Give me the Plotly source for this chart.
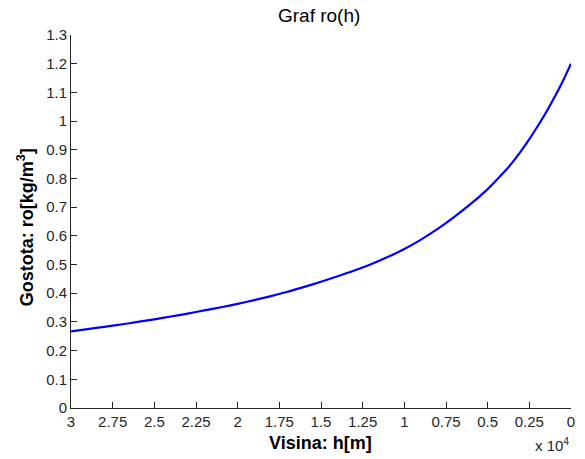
import plotly.graph_objects as go

# Data
h_m = [0, 500, 1000, 1500, 2000, 2500, 3000, 3500, 4000, 5000, 6000, 7000, 8000,
       9000, 10000, 11000, 12000, 13000, 14000, 15000, 16000, 17000, 18000, 19000,
       20000, 21000, 22000, 23000, 24000, 25000, 26000, 27000, 28000, 29000, 30000]
ro = [1.200, 1.138, 1.082, 1.030, 0.982, 0.937, 0.895, 0.857, 0.823, 0.763, 0.712, 0.666, 0.624,
      0.587, 0.554, 0.526, 0.501, 0.479, 0.459, 0.440, 0.422, 0.405, 0.390, 0.376,
      0.363, 0.351, 0.340, 0.329, 0.319, 0.309, 0.300, 0.291, 0.283, 0.275, 0.267]

x_tickvals = [0, 2500, 5000, 7500, 10000, 12500, 15000, 17500, 20000, 22500, 25000, 27500, 30000]
x_ticktext = ["0", "0.25", "0.5", "0.75", "1", "1.25", "1.5", "1.75", "2", "2.25", "2.5", "2.75", "3"]
y_tickvals = [0, 0.1, 0.2, 0.3, 0.4, 0.5, 0.6, 0.7, 0.8, 0.9, 1.0, 1.1, 1.2, 1.3]
y_ticktext = ["0", "0.1", "0.2", "0.3", "0.4", "0.5", "0.6", "0.7", "0.8", "0.9", "1", "1.1", "1.2", "1.3"]

W, H = 585, 459
L, R, T, B = 71, 10, 35, 51
pw, ph = W - L - R, H - T - B

def px(xp):
    return (xp - L) / pw

def py(yp):
    return (H - B - yp) / ph

FONT = "Liberation Sans, Arial, sans-serif"
axcol = "#262626"

fig = go.Figure()
fig.add_trace(go.Scatter(x=h_m, y=ro, mode="lines",
                         line=dict(color="#0000ff", width=2.2, shape="spline", smoothing=0.8),
                         showlegend=False, hoverinfo="skip"))

fig.update_layout(
    width=W, height=H,
    margin=dict(l=L, r=R, t=T, b=B, pad=0),
    paper_bgcolor="white", plot_bgcolor="white",
    font=dict(family=FONT, size=15, color=axcol),
    xaxis=dict(range=[30000, 0], tickvals=x_tickvals, ticktext=x_ticktext,
               ticks="inside", ticklen=6, tickcolor=axcol, tickwidth=1,
               showline=True, linecolor=axcol, linewidth=1,
               showgrid=False, zeroline=False, mirror=False,
               tickfont=dict(size=15, color=axcol)),
    yaxis=dict(range=[0, 1.3], tickvals=y_tickvals, ticktext=y_ticktext,
               ticks="inside", ticklen=6, tickcolor=axcol, tickwidth=1,
               showline=True, linecolor=axcol, linewidth=1,
               showgrid=False, zeroline=False, mirror=False,
               tickfont=dict(size=15, color=axcol)),
    annotations=[
        dict(text="Graf ro(h)", x=px(321), y=py(16), xref="paper", yref="paper",
             showarrow=False, xanchor="center", yanchor="middle",
             font=dict(family=FONT, size=19, color="black")),
        dict(text="<b>Visina: h[m]</b>", x=px(322), y=py(443), xref="paper", yref="paper",
             showarrow=False, xanchor="center", yanchor="middle",
             font=dict(family=FONT, size=18, color="black")),
        dict(text="<b>Gostota: ro[kg/m<sup>3</sup>]</b>", x=px(25), y=py(227), xref="paper", yref="paper",
             showarrow=False, xanchor="center", yanchor="middle", textangle=-90,
             font=dict(family=FONT, size=18, color="black")),
        dict(text="x 10<sup>4</sup>", x=px(556), y=py(444), xref="paper", yref="paper",
             showarrow=False, xanchor="center", yanchor="middle",
             font=dict(family=FONT, size=15, color=axcol)),
    ],
)

fig.write_html("out.html")
